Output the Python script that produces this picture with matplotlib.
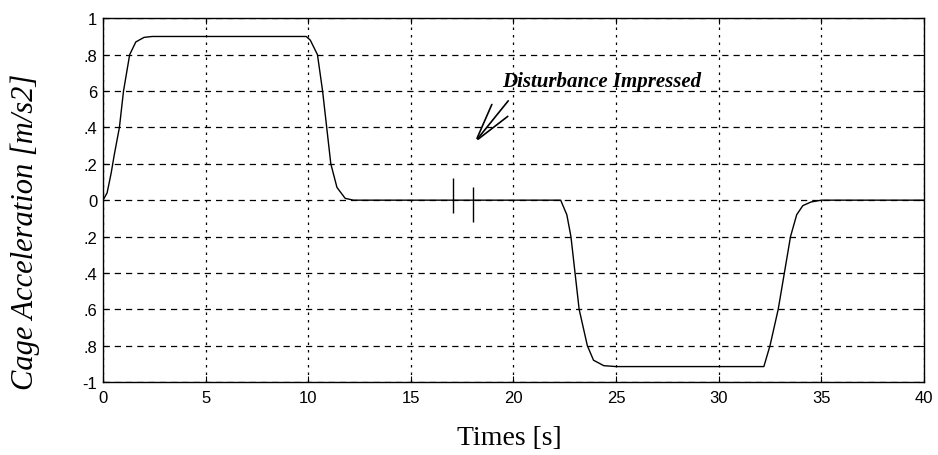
import matplotlib
matplotlib.use("Agg")
import matplotlib.pyplot as plt
import numpy as np

# Data
time_s = [0, 0.2, 0.4, 0.55, 0.8, 1.0, 1.3, 1.6, 2.0, 2.4,
          9.9, 10.1, 10.45, 10.7, 10.9, 11.1, 11.4, 11.8, 12.2,
          22.3, 22.6, 22.8, 23.0, 23.2, 23.6, 23.9, 24.4, 25.0,
          32.2, 32.5, 32.9, 33.2, 33.5, 33.8, 34.1, 34.5, 35.0, 40.0]
accel = [0, 0.04, 0.15, 0.25, 0.4, 0.6, 0.8, 0.87, 0.895, 0.9,
         0.9, 0.88, 0.8, 0.6, 0.4, 0.2, 0.07, 0.01, 0,
         0, -0.08, -0.2, -0.4, -0.6, -0.8, -0.88, -0.91, -0.915,
         -0.915, -0.8, -0.6, -0.4, -0.2, -0.08, -0.03, -0.01, 0, 0]

# disturbance marks
dist_t = [17.07, 18.05]
dist_lo = [-0.07, -0.12]
dist_hi = [0.12, 0.075]

xticks = [0, 5, 10, 15, 20, 25, 30, 35, 40]
yticks = [-1, -0.8, -0.6, -0.4, -0.2, 0, 0.2, 0.4, 0.6, 0.8, 1]
ytick_labels = ['-1', '.8', '.6', '.4', '.2', '0', '.2', '.4', '6', '.8', '1']

fig = plt.figure(figsize=(9.38, 4.56), dpi=100)
ax = fig.add_axes([0.1098, 0.160, 0.8752, 0.7977])

ax.plot(time_s, accel, color='black', linewidth=1.0)
ax.vlines(dist_t, dist_lo, dist_hi, color='black', linewidth=1.0)

ax.set_xlim(0, 40)
ax.set_ylim(-1, 1)
ax.set_xticks(xticks)
ax.set_xticklabels([str(v) for v in xticks], fontfamily='Liberation Sans', fontsize=12)
ax.set_yticks(yticks)
ax.set_yticklabels(ytick_labels, fontfamily='Liberation Sans', fontsize=12)
ax.tick_params(direction='in', length=4, top=True, right=True)
ax.tick_params(axis='x', pad=6)
ax.tick_params(axis='y', pad=4)

ax.xaxis.grid(True, color='black', linestyle=(0, (2, 4)), linewidth=0.9)
ax.yaxis.grid(True, color='black', linestyle=(0, (5, 4)), linewidth=0.9)
for s in ax.spines.values():
    s.set_linewidth(1.0)

ax.set_xlabel('Times [s]', fontfamily='Liberation Serif', fontsize=20)
ax.xaxis.set_label_coords(0.495, -0.118)
ax.set_ylabel('Cage Acceleration [m/s2]', fontfamily='Liberation Serif',
              fontstyle='italic', fontsize=22)
ax.yaxis.set_label_coords(-0.077, 0.415)

# annotation
ax.text(24.3, 0.655, 'Disturbance Impressed', fontfamily='Liberation Serif',
        fontstyle='italic', fontweight='bold', fontsize=15, ha='center', va='center')
tip = (18.17, 0.326)
for tail in [(19.0, 0.54), (19.83, 0.558), (19.83, 0.47)]:
    ax.annotate('', xy=tip, xytext=tail,
                arrowprops=dict(arrowstyle='-', color='black', linewidth=1.2))

fig.savefig('out.png', dpi=100)
